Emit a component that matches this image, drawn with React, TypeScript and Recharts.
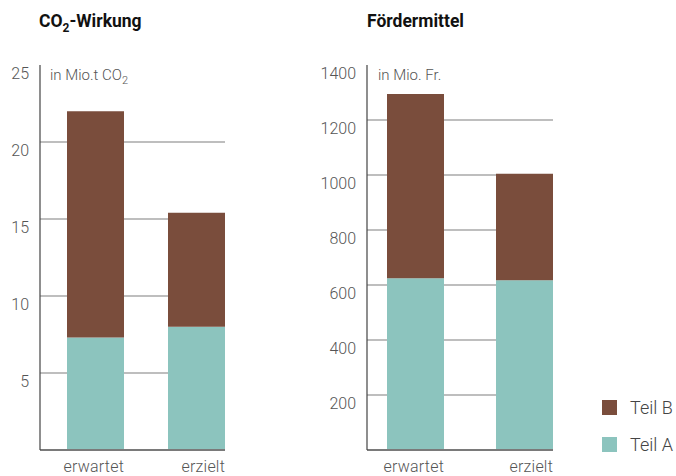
import React from 'react';
import { BarChart, Bar, XAxis, YAxis, CartesianGrid } from 'recharts';

const categories = ['erwartet', 'erzielt'];
const co2TeilA = [7.3, 8.0];
const co2TeilB = [14.7, 7.4];
const mittelTeilA = [625, 617];
const mittelTeilB = [670, 388];
const co2Ticks = [5, 10, 15, 20, 25];
const co2Grid = [5, 10, 15, 20];
const mittelTicks = [200, 400, 600, 800, 1000, 1200, 1400];
const mittelGrid = [200, 400, 600, 800, 1000, 1200];

const BROWN = '#7a4d3c';
const TEAL = '#8cc4be';
const FONT = 'Roboto, "Noto Sans", sans-serif';

const co2Data = categories.map((c, i) => ({ name: c, a: co2TeilA[i], b: co2TeilB[i] }));
const mittelData = categories.map((c, i) => ({ name: c, a: mittelTeilA[i], b: mittelTeilB[i] }));

const YTick = (props: any) => {
  const { x, y, payload } = props;
  return (
    <text x={x} y={y + 8.5} dy="0.36em" textAnchor="end" fontSize={16} fill="#555"
      fontFamily={FONT} fontWeight={300}>
      {payload.value}
    </text>
  );
};

const XTick = (props: any) => {
  const { x, y, payload } = props;
  return (
    <text x={x + 28.5} y={y + 20} textAnchor="end" fontSize={16} fill="#555"
      fontFamily={FONT} fontWeight={300} letterSpacing={0.2}>
      {payload.value}
    </text>
  );
};

interface PanelProps {
  data: any[];
  ticks: number[];
  grid: number[];
  max: number;
  yWidth: number;
  width: number;
  padL: number;
  padR: number;
}

const Panel = ({ data, ticks, grid, max, yWidth, width, padL, padR }: PanelProps) => (
  <BarChart width={width} height={476} data={data}
    margin={{ top: 65, right: 0, bottom: 0, left: 0 }} barSize={57}>
    <CartesianGrid horizontal vertical={false} horizontalValues={grid}
      stroke="#a8a8a8" strokeWidth={1.5} />
    <XAxis dataKey="name" height={26} padding={{ left: padL, right: padR }}
      axisLine={{ stroke: '#7a7a7a', strokeWidth: 2 }} tickLine={false} tickSize={0}
      tick={<XTick />} interval={0} />
    <YAxis type="number" domain={[0, max]} ticks={ticks} width={yWidth}
      axisLine={{ stroke: '#444', strokeWidth: 1.2 }} tickLine={false} tickSize={0}
      tickMargin={11} tick={<YTick />} interval={0} />
    <Bar dataKey="a" stackId="s" fill={TEAL} isAnimationActive={false} />
    <Bar dataKey="b" stackId="s" fill={BROWN} isAnimationActive={false} />
  </BarChart>
);

const titleStyle: React.CSSProperties = {
  position: 'absolute', top: 11, fontFamily: FONT, fontWeight: 700, fontSize: 17.5, color: '#111',
};
const unitStyle: React.CSSProperties = {
  position: 'absolute', top: 66, fontFamily: FONT, fontWeight: 300, fontSize: 15, color: '#555',
};
const legendRow: React.CSSProperties = {
  position: 'absolute', left: 602, display: 'flex', alignItems: 'center',
  fontFamily: FONT, fontWeight: 300, fontSize: 18, color: '#444',
};
const swatch = (c: string): React.CSSProperties => ({
  width: 15, height: 15, background: c, marginRight: 13,
});

export default function App() {
  return (
    <div style={{ position: 'fixed', left: 0, top: 0, width: 676, height: 476, background: '#fff', overflow: 'hidden' }}>
      <div style={{ ...titleStyle, left: 39 }}>CO<sub style={{ fontSize: 12 }}>2</sub>-Wirkung</div>
      <div style={{ ...titleStyle, left: 367 }}>Fördermittel</div>
      <div style={{ position: 'absolute', left: 0, top: 0 }}>
        <Panel data={co2Data} ticks={co2Ticks} grid={co2Grid} max={25}
          yWidth={40} width={225} padL={5} padR={-22} />
      </div>
      <div style={{ position: 'absolute', left: 300, top: 0 }}>
        <Panel data={mittelData} ticks={mittelTicks} grid={mittelGrid} max={1400}
          yWidth={67} width={253} padL={-6} padR={-26} />
      </div>
      <div style={{ ...unitStyle, left: 50 }}>in Mio.t CO<sub style={{ fontSize: 11 }}>2</sub></div>
      <div style={{ ...unitStyle, left: 378 }}>in Mio. Fr.</div>
      <div style={{ ...legendRow, top: 397 }}><div style={swatch(BROWN)} />Teil B</div>
      <div style={{ ...legendRow, top: 434 }}><div style={swatch(TEAL)} />Teil A</div>
    </div>
  );
}
